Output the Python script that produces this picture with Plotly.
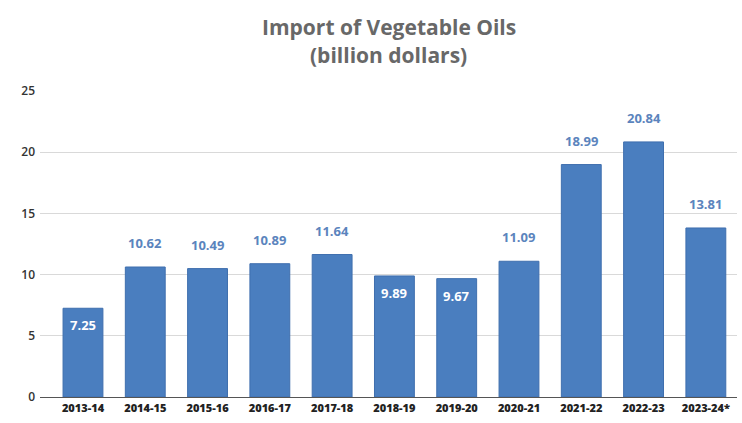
import plotly.graph_objects as go

# Fiscal years and import values (billion US$)
years = ["2013-14", "2014-15", "2015-16", "2016-17", "2017-18", "2018-19",
         "2019-20", "2020-21", "2021-22", "2022-23", "2023-24*"]
values = [7.25, 10.62, 10.49, 10.89, 11.64, 9.89, 9.67, 11.09, 18.99, 20.84, 13.81]
# Short bars carry their value inside the bar top, the rest above it
label_inside = [True, False, False, False, False, True,
                True, False, False, False, False]
y_ticks = [0, 5, 10, 15, 20, 25]

bar_color = "#4a7ebf"
font = "Open Sans"

fig = go.Figure(
    go.Bar(
        x=years,
        y=values,
        width=0.64,
        marker=dict(color=bar_color, line=dict(color="#3f6fae", width=1)),
        hoverinfo="x+y",
    )
)

# Value labels
for yr, v, inside in zip(years, values, label_inside):
    fig.add_annotation(
        x=yr,
        y=v,
        xref="x",
        yref="y",
        text=f"{v:.2f}",
        showarrow=False,
        yanchor="middle",
        yshift=-17 if inside else 24,
        font=dict(family=font, size=13, weight=700,
                  color="white" if inside else "#5b84bd"),
    )

# Two-line title
for txt, ypos in [("Import of Vegetable Oils", 1.209), ("(billion dollars)", 1.118)]:
    fig.add_annotation(
        x=0.5,
        y=ypos,
        xref="paper",
        yref="paper",
        text=txt,
        showarrow=False,
        xanchor="center",
        yanchor="middle",
        font=dict(family=font, size=21, weight=700, color="#686868"),
    )

fig.update_layout(
    width=742,
    height=423,
    margin=dict(l=40, r=5, t=91, b=26),
    paper_bgcolor="white",
    plot_bgcolor="white",
    showlegend=False,
    xaxis=dict(
        range=[-0.69, 10.5],
        showgrid=False,
        showline=False,
        ticks="",
        ticklabelstandoff=3,
        tickfont=dict(family=font, size=11, color="#222222", weight=800),
    ),
    yaxis=dict(
        range=[0, 25],
        tickvals=y_ticks,
        showgrid=True,
        gridcolor="#d9d9d9",
        gridwidth=1,
        zeroline=True,
        zerolinecolor="#555555",
        zerolinewidth=1,
        ticks="",
        ticklabelstandoff=4,
        tickfont=dict(family=font, size=12, color="#333333", weight=600),
    ),
)

fig.write_html("out.html")
